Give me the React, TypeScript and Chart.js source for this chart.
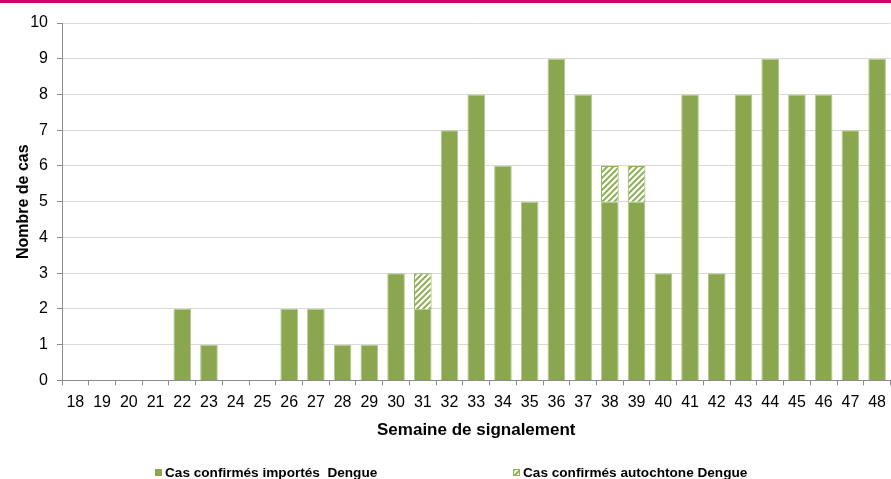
import React, { useEffect, useRef } from "react";
import { Chart, registerables } from "chart.js";

Chart.register(...registerables);

const weeks = ["18","19","20","21","22","23","24","25","26","27","28","29","30","31","32","33","34","35","36","37","38","39","40","41","42","43","44","45","46","47","48"];
const imported = [0,0,0,0,2,1,0,0,2,2,1,1,3,2,7,8,6,5,9,8,5,5,3,8,3,8,9,8,8,7,9];
const autochthonous = [0,0,0,0,0,0,0,0,0,0,0,0,0,1,0,0,0,0,0,0,1,1,0,0,0,0,0,0,0,0,0];
const yTicks = [0,1,2,3,4,5,6,7,8,9,10];
const labelImported = "Cas confirmés importés  Dengue";
const labelAuto = "Cas confirmés autochtone Dengue";

const GREEN = "#8aa64e";

function makeHatch(): CanvasPattern | string {
  const c = document.createElement("canvas");
  c.width = 6;
  c.height = 6;
  const g = c.getContext("2d");
  if (!g) return GREEN;
  g.fillStyle = "#ffffff";
  g.fillRect(0, 0, 6, 6);
  g.strokeStyle = "#8fb055";
  g.lineWidth = 2;
  g.beginPath();
  g.moveTo(-1, 7); g.lineTo(7, -1);
  g.moveTo(-4, 4); g.lineTo(4, -4);
  g.moveTo(2, 10); g.lineTo(10, 2);
  g.stroke();
  const p = g.createPattern(c, "repeat");
  return p || GREEN;
}

export default function App() {
  const ref = useRef<HTMLCanvasElement | null>(null);
  useEffect(() => {
    document.body.style.margin = "0";
    if (!ref.current) return;
    const hatch = makeHatch();
    const decor = {
      id: "decor",
      beforeDraw(chart: any) {
        const ctx = chart.ctx;
        ctx.save();
        ctx.fillStyle = "#ffffff";
        ctx.fillRect(0, 0, chart.width, chart.height);
        ctx.fillStyle = "#d4006c";
        ctx.fillRect(0, 0, chart.width, 3);
        ctx.restore();
      },
      afterDraw(chart: any) {
        const ctx = chart.ctx;
        ctx.save();
        ctx.font = "bold 13.6px 'Liberation Sans', Arial, sans-serif";
        ctx.textBaseline = "alphabetic";
        ctx.fillStyle = "#000";
        const items = [
          { x: 155, label: labelImported, fill: GREEN as any, border: GREEN },
          { x: 513, label: labelAuto, fill: hatch as any, border: "#8fb055" },
        ];
        for (const it of items) {
          ctx.fillStyle = it.fill;
          ctx.fillRect(it.x, 469, 7, 7);
          ctx.strokeStyle = it.border;
          ctx.lineWidth = 1;
          ctx.strokeRect(it.x + 0.5, 469.5, 6, 6);
          ctx.fillStyle = "#000";
          ctx.fillText(it.label, it.x + 10, 477);
        }
        ctx.restore();
      },
    };
    const chart = new Chart(ref.current, {
      type: "bar",
      data: {
        labels: weeks,
        datasets: [
          {
            label: labelImported,
            data: imported,
            backgroundColor: GREEN,
            borderColor: "#b4c98c",
            borderWidth: 1,
            barPercentage: 0.66,
            categoryPercentage: 1,
          },
          {
            label: labelAuto,
            data: autochthonous,
            backgroundColor: hatch as any,
            borderColor: "#8fb055",
            borderWidth: 1,
            barPercentage: 0.66,
            categoryPercentage: 1,
          },
        ],
      },
      options: {
        animation: false,
        responsive: false,
        maintainAspectRatio: false,
        layout: { padding: { top: 23, right: 0, left: 0, bottom: 38 } },
        plugins: {
          legend: { display: false },
          tooltip: { enabled: false },
        },
        scales: {
          x: {
            stacked: true,
            grid: {
              offset: true,
              drawOnChartArea: false,
              drawTicks: true,
              tickLength: 5,
              tickColor: "#8c8c8c",
            },
            border: { color: "#8c8c8c", width: 1 },
            ticks: {
              color: "#000",
              font: { family: "'Liberation Sans', Arial, sans-serif", size: 16 },
              padding: 8,
              maxRotation: 0,
              autoSkip: false,
            },
            title: {
              display: true,
              text: "Semaine de signalement",
              color: "#000",
              font: { family: "'Liberation Sans', Arial, sans-serif", size: 17, weight: "bold" },
              padding: { top: 0, bottom: 0 },
            },
          },
          y: {
            stacked: true,
            min: 0,
            max: 10,
            afterBuildTicks(scale: any) {
              scale.ticks = yTicks.map((v) => ({ value: v }));
            },
            afterFit(scale: any) {
              scale.width = 62;
            },
            grid: {
              color: "#d9d9d9",
              tickColor: "#8c8c8c",
              tickLength: 5,
              lineWidth: 1,
            },
            border: { color: "#8c8c8c", width: 1 },
            ticks: {
              color: "#000",
              font: { family: "'Liberation Sans', Arial, sans-serif", size: 16 },
              padding: 9,
              stepSize: 1,
            },
            title: {
              display: true,
              text: "Nombre de cas",
              color: "#000",
              font: { family: "'Liberation Sans', Arial, sans-serif", size: 16, weight: "bold" },
              padding: { top: 14, bottom: 0 },
            },
          },
        },
      },
      plugins: [decor],
    });
    return () => chart.destroy();
  }, []);
  return (
    <div style={{ width: 891, height: 479, overflow: "hidden", position: "relative" }}>
      <div style={{ width: 894, height: 479 }}>
        <canvas ref={ref} width={894} height={479} style={{ display: "block" }} />
      </div>
    </div>
  );
}
